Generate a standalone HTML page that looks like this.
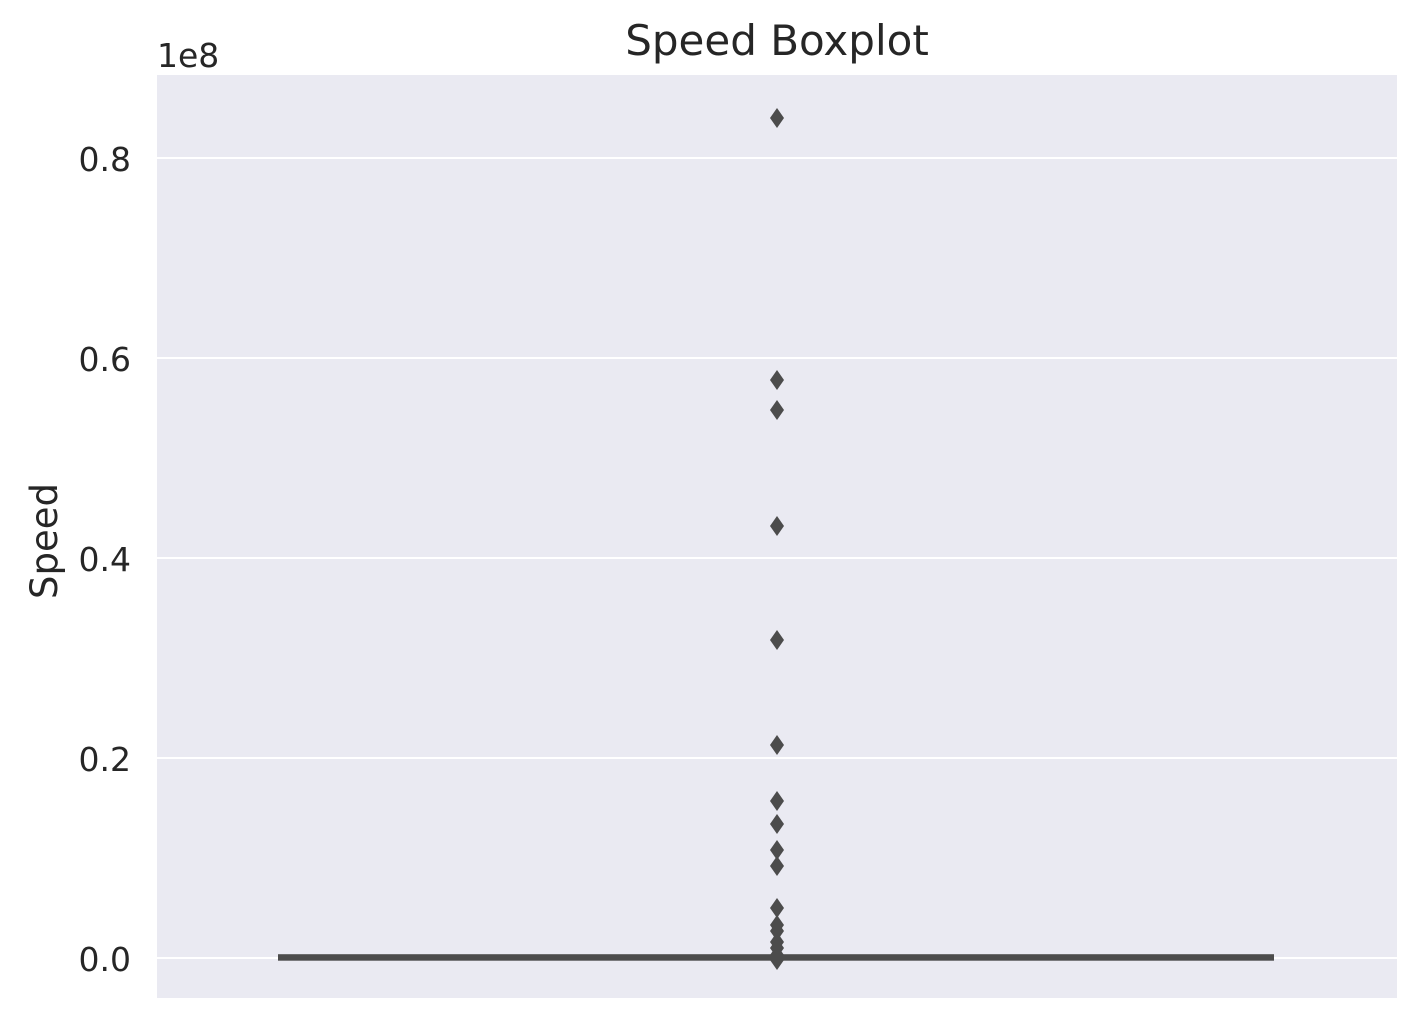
<!DOCTYPE html>
<html><head><meta charset="utf-8"><style>
body{margin:0;background:#fff;font-family:"DejaVu Sans","Liberation Sans",sans-serif}
</style></head><body>
<svg id="chart" width="1421" height="1025" xmlns="http://www.w3.org/2000/svg" font-family="DejaVu Sans, Liberation Sans, sans-serif">
<rect x="157" y="75" width="1240" height="923" fill="#eaeaf2"/>
<g id="grid"></g>
<g id="ticks" fill="#262626" font-size="33" text-anchor="end"></g>
<text x="777" y="55" font-size="42" text-anchor="middle" fill="#262626">Speed Boxplot</text>
<text transform="translate(57,541) rotate(-90)" font-size="37" text-anchor="middle" fill="#262626">Speed</text>
<text x="157" y="67" font-size="33" fill="#262626">1e8</text>
<g id="marks"></g>
</svg>
<script>
const yTicks=[0,0.2,0.4,0.6,0.8];
const tickLabels=["0.0","0.2","0.4","0.6","0.8"];
const boxStats=[0,0.0003,0.0005,0.0008,0.0015]; // whiskerLow,q1,median,q3,whiskerHigh (1e8)
const outliers=[0.84,0.578,0.548,0.432,0.318,0.213,0.157,0.134,0.108,0.092,0.05,0.033,0.027,0.016,0.01,0.003,0.001,-0.002];
const NS="http://www.w3.org/2000/svg";
function y(v){return 958-v*1000;}
function mk(t,a,p){const e=document.createElementNS(NS,t);for(const k in a)e.setAttribute(k,a[k]);document.getElementById(p).appendChild(e);return e;}
yTicks.forEach((v,i)=>{
 const g=mk('line',{x1:157,x2:1397,y1:y(v),y2:y(v),stroke:'#fff','stroke-width':2},'grid');
 
 
 const t=mk('text',{x:131,y:y(v)+13},'ticks');
 t.textContent=tickLabels[i];
 
 
});
const bx=mk('rect',{x:278,width:996,y:y(boxStats[3])-3,height:Math.max(6,y(boxStats[1])-y(boxStats[3])+6),fill:'#4c4c4c'},'marks');


outliers.forEach(v=>{
 const cy=y(v);
 const d=mk('polygon',{points:`777,${cy-10} 784,${cy} 777,${cy+10} 770,${cy}`,fill:'#4c4c4c'},'marks');
 
 
});
</script>
</body></html>
